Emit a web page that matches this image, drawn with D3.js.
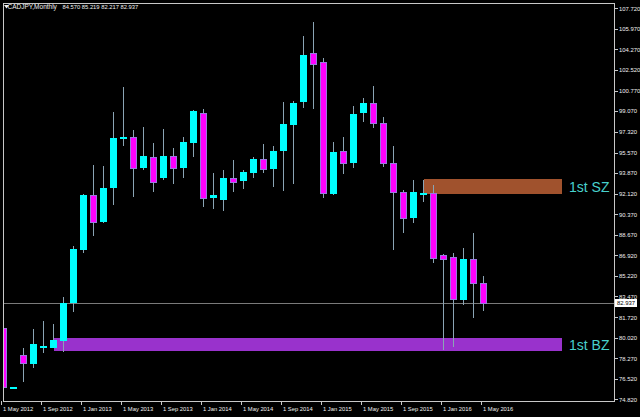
<!DOCTYPE html>
<html><head><meta charset="utf-8">
<script src="https://cdn.jsdelivr.net/npm/d3@7"></script>
<style>html,body{margin:0;padding:0;background:#000;overflow:hidden}svg{display:block}</style>
</head><body>
<script>
// ---- data (CADJPY monthly) ----
const months = ["2012-05","2012-06","2012-07","2012-08","2012-09","2012-10","2012-11","2012-12",
"2013-01","2013-02","2013-03","2013-04","2013-05","2013-06","2013-07","2013-08","2013-09","2013-10","2013-11","2013-12",
"2014-01","2014-02","2014-03","2014-04","2014-05","2014-06","2014-07","2014-08","2014-09","2014-10","2014-11","2014-12",
"2015-01","2015-02","2015-03","2015-04","2015-05","2015-06","2015-07","2015-08","2015-09","2015-10","2015-11","2015-12",
"2016-01","2016-02","2016-03","2016-04","2016-05"];
const open  = [80.82,75.78,78.55,77.79,79.16,79.16,79.73,82.95,87.38,92.01,89.71,92.57,96.70,96.87,94.26,95.23,93.42,95.32,94.26,96.41,
98.94,91.76,91.59,93.42,93.21,93.89,95.02,94.22,95.74,97.90,99.86,103.93,103.18,92.10,95.74,94.68,98.89,99.73,98.09,94.68,
92.29,90.05,92.07,92.15,86.94,86.77,83.18,86.60,84.570];
const high  = [82.08,75.88,79.11,80.71,81.43,81.16,83.40,87.75,92.10,94.54,94.45,99.02,101.12,97.48,97.71,96.41,97.54,95.94,96.87,99.16,
99.22,93.84,94.11,94.96,94.11,95.23,96.30,96.13,99.86,99.95,105.39,106.59,103.51,96.50,96.87,99.52,100.15,101.21,98.55,96.16,
92.40,93.27,93.27,92.85,87.05,87.11,87.53,88.79,85.219];
const low   = [75.50,75.74,76.30,77.43,78.74,79.10,78.83,82.19,87.10,88.56,89.63,91.17,96.13,91.82,94.15,92.29,93.27,92.94,93.42,95.18,
91.03,90.81,90.69,92.29,92.49,93.42,93.89,92.71,92.37,92.94,99.31,99.22,91.73,92.01,93.78,94.26,98.18,97.62,94.39,87.38,
88.84,89.68,91.45,86.32,78.97,79.25,82.76,81.64,82.217];
const close = [75.83,75.84,77.85,79.45,79.33,79.81,82.95,87.47,92.01,89.76,92.63,96.78,96.87,94.26,95.29,93.08,95.32,94.31,96.50,99.08,
91.73,91.99,93.42,93.13,93.92,95.02,94.22,95.74,97.99,99.73,103.79,103.01,92.20,95.60,94.68,98.83,99.73,98.04,94.68,92.24,
90.05,92.29,92.15,86.69,86.65,83.24,86.60,84.63,82.937];
const priceTicks = ["107.720","105.970","104.270","102.520","100.770","99.070","97.320","95.570","93.870","92.120",
"90.370","88.670","86.920","85.220","83.470","81.720","80.020","78.270","76.520","74.820"];
const timeTickIdx = [0,4,8,12,16,20,24,28,32,36,40,44,48];
const timeTickLabels = ["1 May 2012","1 Sep 2012","1 Jan 2013","1 May 2013","1 Sep 2013","1 Jan 2014","1 May 2014",
"1 Sep 2014","1 Jan 2015","1 May 2015","1 Sep 2015","1 Jan 2016","1 May 2016"];
const zoneNames = ["1st SZ","1st BZ"];
const zoneTop = [93.33, 79.95];
const zoneBottom = [92.07, 78.91];
const zoneStart = [42, 5];
const zoneEnd = [55.85, 55.85];
const lastPrice = 82.937;
const titleName = "CADJPY,Monthly";
const titleValues = "84.570 85.219 82.217 82.937";

// ---- drawing ----
const W = 640, H = 417;
const frame = {l: 3, t: 3, r: 614, b: 401};
const FONT = "Liberation Sans, Arial, sans-serif";
const svg = d3.select("body").append("svg").attr("width", W).attr("height", H)
  .style("background", "#000");

const x = d3.scaleLinear().domain([0, 48]).range([3.5, 483.5]);
const y = d3.scaleLinear().domain([74.82, 107.72]).range([399.3, 8.3]);

const defs = svg.append("defs");
defs.append("clipPath").attr("id", "plot").append("rect")
  .attr("x", frame.l + 0.5).attr("y", frame.t + 0.5)
  .attr("width", frame.r - frame.l - 0.5).attr("height", frame.b - frame.t - 0.5);

const plot = svg.append("g").attr("clip-path", "url(#plot)").attr("shape-rendering", "crispEdges");

// zones
const zones = zoneNames.map((n, i) => ({n, top: zoneTop[i], bot: zoneBottom[i], s: zoneStart[i], e: zoneEnd[i]}));
const zoneColor = ["#a0522d", "#9932cc"];
plot.selectAll("rect.zone").data(zones).join("rect").attr("class", "zone")
  .attr("x", d => Math.round(x(d.s)))
  .attr("width", d => Math.round(x(d.e)) - Math.round(x(d.s)))
  .attr("y", d => Math.round(y(d.top)))
  .attr("height", d => Math.round(y(d.bot)) - Math.round(y(d.top)))
  .attr("fill", (d, i) => zoneColor[i]);

// last price line
plot.append("line").attr("x1", frame.l).attr("x2", frame.r)
  .attr("y1", Math.round(y(lastPrice)) + 0.5).attr("y2", Math.round(y(lastPrice)) + 0.5)
  .attr("stroke", "#7a7a7a").attr("stroke-width", 1);

// candles
const candles = months.map((m, i) => ({i, o: open[i], h: high[i], l: low[i], c: close[i]}));
const cg = plot.selectAll("g.c").data(candles).join("g").attr("class", "c");
cg.append("line")
  .attr("x1", d => Math.floor(x(d.i)) + 0.5).attr("x2", d => Math.floor(x(d.i)) + 0.5)
  .attr("y1", d => Math.round(y(d.h))).attr("y2", d => Math.round(y(d.l)))
  .attr("stroke", "#8aa4b4").attr("stroke-width", 1);
cg.append("rect")
  .attr("x", d => d.c >= d.o ? Math.floor(x(d.i)) - 3 : Math.floor(x(d.i)) - 2.5)
  .attr("width", d => d.c >= d.o ? 7 : 6)
  .attr("y", d => d.c >= d.o ? Math.round(y(d.c)) : Math.round(y(d.o)) + 0.5)
  .attr("height", d => d.c >= d.o ? Math.max(2, Math.round(y(d.o)) - Math.round(y(d.c))) : Math.max(1, Math.round(y(d.c)) - Math.round(y(d.o))))
  .attr("fill", d => d.c >= d.o ? "#00ffff" : "#ff00ff")
  .attr("stroke", d => d.c >= d.o ? "none" : "#9a78e0")
  .attr("stroke-width", 1);

// zone labels
svg.selectAll("text.zl").data(zones).join("text").attr("class", "zl")
  .attr("x", 569).attr("y", d => (y(d.top) + y(d.bot)) / 2 + 5)
  .attr("fill", "#48d1cc").attr("font-family", FONT)
  .attr("font-size", 14).text(d => d.n);

// frame
svg.append("rect").attr("x", frame.l + 0.5).attr("y", frame.t + 0.5)
  .attr("width", frame.r - frame.l).attr("height", frame.b - frame.t)
  .attr("fill", "none").attr("stroke", "#c8c8c8").attr("stroke-width", 1)
  .attr("shape-rendering", "crispEdges");

// right price axis
const yAxis = d3.axisRight(y).tickValues(priceTicks.map(Number)).tickSize(3).tickPadding(1.5)
  .tickFormat((d, i) => priceTicks[i]);
const ya = svg.append("g").attr("transform", `translate(${frame.r + 0.5},0)`).call(yAxis);
ya.select(".domain").remove();
ya.selectAll("line").attr("stroke", "#c8c8c8").attr("shape-rendering", "crispEdges");
ya.selectAll("text").attr("fill", "#f0f0f0").attr("font-family", FONT)
  .attr("font-size", 5.9);

// last price tag
const ly = y(lastPrice);
svg.append("rect").attr("x", 615).attr("y", Math.round(ly) - 4).attr("width", 22).attr("height", 8)
  .attr("fill", "#ffffff");
svg.append("text").attr("x", 617).attr("y", ly + 2.2).attr("fill", "#000")
  .attr("font-family", FONT).attr("font-size", 5.9).text(lastPrice.toFixed(3));

// bottom time axis
const xTick = d => Math.floor(x(d)) - 1.5;
const xt = svg.append("g").attr("shape-rendering", "crispEdges");
xt.selectAll("line").data(timeTickIdx).join("line")
  .attr("x1", xTick).attr("x2", xTick).attr("y1", frame.b).attr("y2", frame.b + 4)
  .attr("stroke", "#c8c8c8");
svg.append("g").selectAll("text").data(timeTickIdx).join("text")
  .attr("x", d => xTick(d) + 1.5).attr("y", 410.5)
  .attr("fill", "#f0f0f0").attr("font-family", FONT)
  .attr("font-size", 5.8).text((d, i) => timeTickLabels[i]);

// title
svg.append("path").attr("d", "M4,5 L9,5 L6.5,8.5 Z").attr("fill", "#f0f0f0");
svg.append("text").attr("x", 7.5).attr("y", 9).attr("fill", "#f0f0f0")
  .attr("font-family", FONT).attr("font-size", 6.5).text(titleName);
svg.append("text").attr("x", 62.5).attr("y", 9).attr("fill", "#f0f0f0")
  .attr("font-family", FONT).attr("font-size", 5.8).text(titleValues);
</script>
</body></html>
